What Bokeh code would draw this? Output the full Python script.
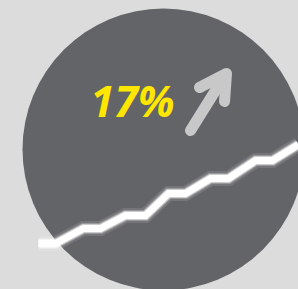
from bokeh.plotting import figure
from bokeh.models import Range1d, GlobalInlineStyleSheet
from bokeh.core.properties import value
from bokeh.embed import file_html
from bokeh.resources import INLINE

# data (screen-like coordinates, y grows downward)
step_x = [38, 55, 83, 100, 125, 145, 168, 185, 210, 228, 255, 272, 298]
step_y = [243, 243, 228, 228, 215, 215, 193, 193, 178, 178, 160, 160, 144]
label = ["17%"]
arrow_shaft_x = [190, 225]
arrow_shaft_y = [130, 74]
arrow_head_x = [199, 226, 224]
arrow_head_y = [87, 73, 101]

W, H = 298, 289
BG = "#dcdcdc"
p = figure(width=W, height=H, output_backend="svg", toolbar_location=None,
           x_range=Range1d(0, W), y_range=Range1d(H, 0),
           min_border=0, border_fill_color=BG, background_fill_color=BG,
           outline_line_color=None)
p.axis.visible = False
p.grid.visible = False
p.stylesheets = [GlobalInlineStyleSheet(css="body{margin:0 !important;background:%s;overflow:hidden;}" % BG)]

p.circle(x=[163], y=[149], radius=141, fill_color="#636468", line_color=None)

# arrow
p.line(arrow_shaft_x, arrow_shaft_y, line_color="#c8c8c8", line_width=11, line_cap="round")
p.line(arrow_head_x, arrow_head_y, line_color="#c8c8c8", line_width=11, line_cap="round", line_join="round")

# label
p.text(x=[90], y=[100], text=label, text_color="#ffe600", text_font=value("Open Sans"),
       text_font_size="43px", text_font_style="bold italic", text_baseline="alphabetic")

# glowing step line
for w, a in [(15, 0.12), (11, 0.25), (9, 0.5)]:
    p.line(step_x, step_y, line_color="white", line_width=w, line_alpha=a, line_join="miter")
p.line(step_x, step_y, line_color="white", line_width=7, line_join="miter")

open("out.html", "w").write(file_html(p, INLINE))
